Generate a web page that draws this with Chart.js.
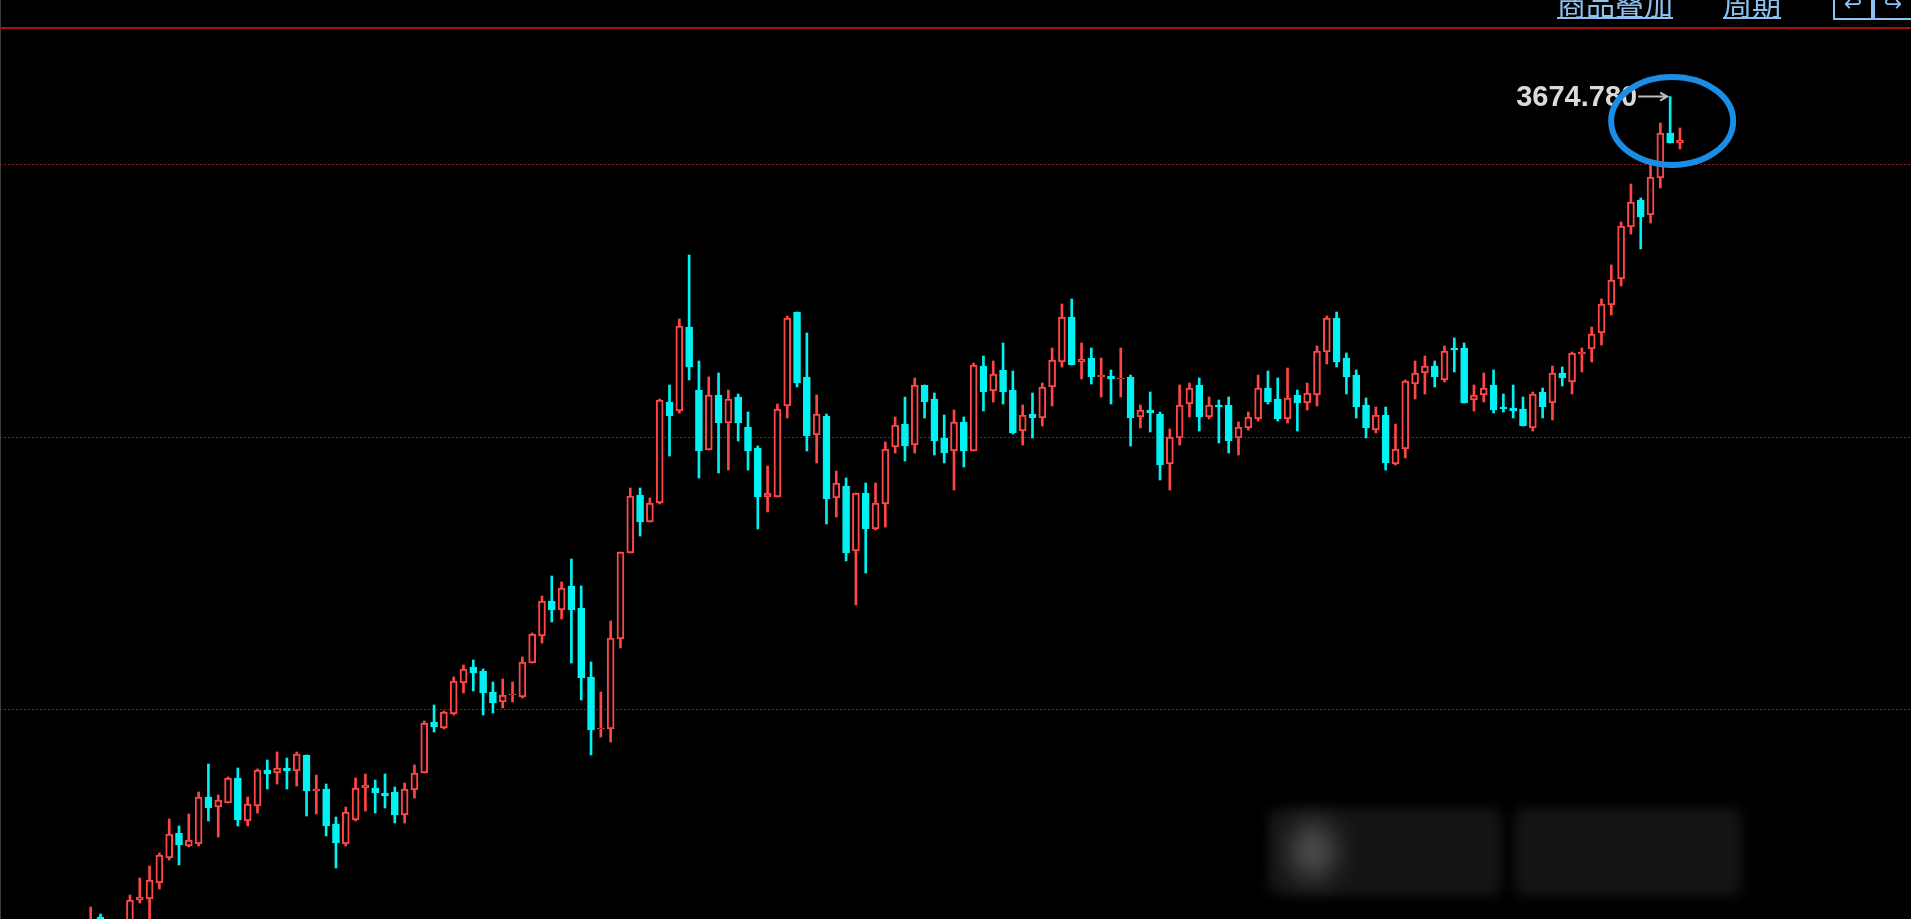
<!DOCTYPE html>
<html>
<head>
<meta charset="utf-8">
<script src="https://cdn.jsdelivr.net/npm/chart.js@4/dist/chart.umd.min.js"></script>
<style>
  html, body { margin: 0; padding: 0; background: #000; overflow: hidden; }
  #wrap { position: relative; width: 1911px; height: 919px; background: #000; }
  #kline { position: absolute; left: 0; top: 0; }
  .topline { position: absolute; left: 0; top: 27px; width: 1911px; height: 2px; background: #a81010; }
  .leftline { position: absolute; left: 0; top: 0; width: 1px; height: 919px; background: #3c3c3c; }
  .tool { position: absolute; top: -11px; font: 29px "Noto Sans CJK SC", sans-serif; line-height: 29px;
          color: #8ec1f2; text-decoration: underline; text-underline-offset: 1px; white-space: nowrap; }
  .btn { position: absolute; top: -12px; height: 28px; width: 36px; border: 2px solid #8ec1f2;
         color: #8ec1f2; font: 22px "DejaVu Sans", sans-serif; line-height: 28px; text-align: center; }
  .blur { position: absolute; background: #141414; border-radius: 10px; filter: blur(6px); }
  .blob { position: absolute; border-radius: 50%; background: #505050; filter: blur(14px); }
</style>
</head>
<body>
<div id="wrap">
  <canvas id="kline" width="1911" height="919"></canvas>
  <div class="leftline"></div>
  <div class="topline"></div>
  <div class="tool" style="left:1557px">商品叠加</div>
  <div class="tool" style="left:1723px">周期</div>
  <div class="btn" style="left:1833px">↩</div>
  <div class="btn" style="left:1873px">↪</div>
  <div class="blur" style="left:1268px; top:808px; width:234px; height:88px;"></div>
  <div class="blur" style="left:1514px; top:808px; width:228px; height:88px;"></div>
  <div class="blob" style="left:1290px; top:822px; width:46px; height:58px;"></div>
</div>
<script>
// daily candles, oldest first
const opens = [
  2725, 2772.3, 2741.5, 2752.5, 2758, 2791, 2792.1, 2809.7, 2837.2, 2864.7,
  2850.4, 2852.6, 2904.3, 2893.3, 2897.7, 2925.2, 2877.9, 2894.4, 2934, 2930.7,
  2936.2, 2932.9, 2950.5, 2910.9, 2913.1, 2874.6, 2852.6, 2879, 2914.2, 2914.2,
  2908.7, 2909.8, 2884.5, 2912, 2930.7, 2986.8, 2980.2, 2995.6, 3029.7, 3047.3,
  3042.9, 3019.8, 3008.8, 3016.5, 3014.3, 3051.7, 3081.4, 3119.9, 3110, 3136.4,
  3112.2, 3036.3, 2979.1, 2979.1, 3078.1, 3172.7, 3236.5, 3206.8, 3227.7, 3338.8,
  3328.9, 3421.3, 3352, 3286, 3346.5, 3315.7, 3344.3, 3311.3, 3288.2, 3234.3,
  3234.3, 3334.4, 3437.8, 3366.3, 3302.5, 3323.4, 3233.2, 3246.4, 3174.9, 3238.7,
  3199.1, 3226.6, 3289.3, 3314.6, 3291.5, 3357.5, 3342.1, 3299.2, 3284.9, 3316.8,
  3284.9, 3378.4, 3350.9, 3374, 3352, 3306.9, 3325.6, 3321.2, 3355.3, 3382.8,
  3432.3, 3382.8, 3387.2, 3366.3, 3367.4, 3364.1, 3366.3, 3322.3, 3330, 3325.6,
  3270.6, 3299.2, 3336.6, 3357.5, 3322.3, 3335.5, 3335.5, 3299.2, 3310.2, 3320.1,
  3354.2, 3342.1, 3320.1, 3346.5, 3337.7, 3346.5, 3393.8, 3431.2, 3387.2, 3368.5,
  3335.5, 3308, 3324.5, 3270.6, 3287.1, 3358.6, 3370.7, 3378.4, 3363, 3398.2,
  3398.2, 3341, 3346.5, 3357.5, 3333.3, 3332.2, 3331.1, 3310.2, 3349.8, 3337.7,
  3370.7, 3360.8, 3391.6, 3397.1, 3414.7, 3445.5, 3474.1, 3531.3, 3561, 3544.5,
  3585.2, 3634.7, 3623.7
];
const closes = [
  2763.5, 2752.5, 2763.5, 2767.9, 2791, 2794.3, 2813, 2840.5, 2863.6, 2851.5,
  2857, 2904.3, 2892.2, 2901, 2925.2, 2879, 2896.6, 2934, 2929.6, 2936.2,
  2932.9, 2951.6, 2910.9, 2913.1, 2872.4, 2853.7, 2887.8, 2914.2, 2917.5, 2908.7,
  2905.4, 2884.5, 2913.1, 2930.7, 2985.7, 2981.3, 2997.8, 3031.9, 3045.1, 3040.7,
  3018.7, 3007.7, 3016.5, 3017.6, 3052.8, 3083.6, 3119.9, 3110, 3134.2, 3110,
  3035.2, 2978, 2980.2, 3079.2, 3173.8, 3235.4, 3206.8, 3227.7, 3341, 3323.4,
  3422.4, 3377.3, 3284.9, 3346.5, 3315.7, 3342.1, 3315.7, 3284.9, 3234.3, 3238.7,
  3331.1, 3431.2, 3359.7, 3301.4, 3325.6, 3232.1, 3249.7, 3172.7, 3238.7, 3199.1,
  3227.7, 3287.1, 3313.5, 3290.4, 3357.5, 3338.8, 3295.9, 3282.7, 3316.8, 3284.9,
  3379.5, 3349.8, 3369.6, 3349.8, 3304.7, 3324.5, 3321.2, 3355.3, 3385, 3432.3,
  3379.5, 3386.1, 3366.3, 3368.5, 3364.1, 3365.2, 3321.2, 3330, 3326.7, 3269.5,
  3300.3, 3335.5, 3354.2, 3322.3, 3335.5, 3333.3, 3295.9, 3311.3, 3322.3, 3354.2,
  3338.8, 3320.1, 3343.2, 3337.7, 3348.7, 3394.9, 3431.2, 3382.8, 3366.3, 3333.3,
  3310.2, 3324.5, 3271.7, 3287.1, 3361.9, 3370.7, 3378.4, 3366.3, 3394.9, 3396,
  3337.7, 3346.5, 3354.2, 3330, 3331.1, 3328.9, 3312.4, 3347.6, 3333.3, 3370.7,
  3365.2, 3392.7, 3393.8, 3413.6, 3446.6, 3473, 3532.4, 3558.8, 3542.3, 3586.3,
  3634.7, 3623.7, 3627
];
const highs = [
  2783.3, 2775.6, 2766.8, 2769, 2796.5, 2815.2, 2828.4, 2842.7, 2880.1, 2872.4,
  2885.6, 2909.8, 2940.6, 2906.5, 2926.3, 2936.2, 2904.3, 2935.1, 2945, 2953.8,
  2947.2, 2953.8, 2950.5, 2928.5, 2918.6, 2882.3, 2893.3, 2925.2, 2929.6, 2923,
  2929.6, 2915.3, 2919.7, 2939.5, 2987.9, 3005.5, 2998.9, 3036.3, 3049.5, 3055,
  3045.1, 3030.8, 3034.1, 3030.8, 3058.3, 3084.7, 3125.4, 3147.4, 3140.8, 3166.1,
  3136.4, 3052.8, 3019.8, 3097.9, 3173.8, 3244.2, 3244.2, 3233.2, 3342.1, 3357.5,
  3430.1, 3500.5, 3383.9, 3366.3, 3370.7, 3352, 3347.6, 3327.8, 3290.4, 3268.4,
  3336.6, 3433.4, 3437.8, 3414.7, 3346.5, 3325.6, 3262.9, 3255.2, 3238.7, 3249.7,
  3249.7, 3294.8, 3322.3, 3344.3, 3365.2, 3357.5, 3348.7, 3324.5, 3330, 3322.3,
  3381.7, 3389.4, 3383.9, 3403.7, 3372.9, 3335.5, 3348.7, 3359.7, 3398.2, 3446.6,
  3452.1, 3403.7, 3398.2, 3387.2, 3374, 3398.2, 3368.5, 3335.5, 3349.8, 3327.8,
  3309.1, 3357.5, 3359.7, 3365.2, 3344.3, 3341, 3344.3, 3316.8, 3327.8, 3368.5,
  3372.9, 3365.2, 3376.2, 3352, 3359.7, 3400.4, 3433.4, 3437.8, 3392.7, 3374,
  3343.2, 3333.3, 3333.3, 3314.6, 3363, 3383.9, 3389.4, 3383.9, 3400.4, 3409.2,
  3403.7, 3357.5, 3370.7, 3374, 3347.6, 3357.5, 3344.3, 3349.8, 3354.2, 3378.4,
  3377.3, 3393.8, 3398.2, 3421.3, 3452.1, 3489.5, 3536.8, 3578.6, 3563.2, 3599.5,
  3645.7, 3674.78, 3640.2
];
const lows = [
  2714, 2741.5, 2736, 2747, 2747, 2787.7, 2763.5, 2803.1, 2835, 2829.5,
  2849.3, 2850.4, 2877.9, 2860.3, 2897.7, 2872.4, 2872.4, 2886.7, 2913.1, 2918.6,
  2913.1, 2916.4, 2883.4, 2885.6, 2861.4, 2826.2, 2850.4, 2877.9, 2888.9, 2886.7,
  2892.2, 2875.7, 2875.7, 2903.2, 2930.7, 2975.8, 2979.1, 2994.5, 3018.7, 3020.9,
  2994.5, 2996.7, 3002.2, 3008.8, 3013.2, 3051.7, 3073.7, 3096.8, 3100.1, 3051.7,
  3011, 2950.5, 2970.3, 2964.8, 3068.2, 3172.7, 3191.4, 3206.8, 3226.6, 3279.4,
  3326.7, 3363, 3255.2, 3286, 3260.7, 3264, 3295.9, 3264, 3199.1, 3217.8,
  3234.3, 3321.2, 3355.3, 3284.9, 3271.7, 3204.6, 3212.3, 3163.9, 3115.5, 3150.7,
  3198, 3201.3, 3282.7, 3273.9, 3282.7, 3321.2, 3280.5, 3271.7, 3242, 3267.3,
  3284.9, 3328.9, 3338.8, 3336.6, 3303.6, 3291.5, 3299.2, 3312.4, 3334.4, 3377.3,
  3379.5, 3364.1, 3358.6, 3344.3, 3336.6, 3344.3, 3290.4, 3310.2, 3305.8, 3253,
  3242, 3291.5, 3322.3, 3306.9, 3320.1, 3293.7, 3282.7, 3280.5, 3308, 3317.9,
  3336.6, 3317.9, 3315.7, 3306.9, 3330, 3334.4, 3380.6, 3377.3, 3347.6, 3321.2,
  3299.2, 3304.7, 3264, 3269.5, 3277.2, 3342.1, 3347.6, 3355.3, 3360.8, 3371.8,
  3337.7, 3328.9, 3338.8, 3326.7, 3327.8, 3321.2, 3312.4, 3306.9, 3321.2, 3319,
  3356.4, 3347.6, 3371.8, 3382.8, 3401.5, 3434.5, 3466.4, 3523.6, 3507.1, 3535.7,
  3574.2, 3623.7, 3617.1
];

// horizontal dotted price levels
const gridLevels = [3000, 3300, 3600];
// highest price marker and the circled area
const peakLabel = '3674.780';
const circlePrice = 3648;

const upColor = '#ff4646';
const downColor = '#00f2f2';

const isUp = opens.map((o, i) => closes[i] >= o);

const annotate = {
    id: 'annotate',
    afterDatasetsDraw(chart) {
        const ctx = chart.ctx;
        const xs = chart.scales.x;
        const ys = chart.scales.y;
        const peakIdx = highs.indexOf(Math.max(...highs));
        const px = xs.getPixelForValue(peakIdx);
        const py = ys.getPixelForValue(highs[peakIdx]);

        ctx.save();
        // price text + arrow
        ctx.font = 'bold 29px "Liberation Sans", Arial, sans-serif';
        ctx.fillStyle = '#dadada';
        ctx.textAlign = 'right';
        ctx.textBaseline = 'middle';
        ctx.fillText(peakLabel, px - 33, py + 1);
        ctx.strokeStyle = '#bdbdbd';
        ctx.lineWidth = 2;
        ctx.beginPath();
        ctx.moveTo(px - 32, py);
        ctx.lineTo(px - 3, py);
        ctx.moveTo(px - 10, py - 4);
        ctx.lineTo(px - 3, py);
        ctx.lineTo(px - 10, py + 4);
        ctx.stroke();

        // blue circle around the last candles
        ctx.strokeStyle = '#1a8ee6';
        ctx.lineWidth = 6;
        ctx.beginPath();
        ctx.ellipse(px + 2, ys.getPixelForValue(circlePrice), 61, 44, 0, 0, Math.PI * 2);
        ctx.stroke();
        ctx.restore();
    }
};

new Chart(document.getElementById('kline'), {
    type: 'bar',
    data: {
        datasets: [
            {
                label: 'wick',
                data: lows.map((l, i) => ({ x: i, y: [l, highs[i]] })),
                backgroundColor: isUp.map(u => u ? upColor : downColor),
                barThickness: 2,
                grouped: false,
                order: 2
            },
            {
                label: 'body',
                data: opens.map((o, i) => ({ x: i, y: [o, closes[i]] })),
                backgroundColor: isUp.map(u => u ? '#000' : downColor),
                borderColor: isUp.map(u => u ? upColor : downColor),
                borderWidth: 2,
                borderSkipped: false,
                barThickness: 7,
                grouped: false,
                order: 1
            }
        ]
    },
    options: {
        responsive: false,
        animation: false,
        events: [],
        layout: { padding: 0 },
        plugins: {
            legend: { display: false },
            tooltip: { enabled: false }
        },
        scales: {
            x: {
                type: 'linear',
                min: -9.245,
                max: 185.55,
                offset: false,
                display: false
            },
            y: {
                min: 2770.1,
                max: 3781,
                afterBuildTicks: scale => {
                    scale.ticks = gridLevels.map(v => ({ value: v }));
                },
                ticks: { display: false },
                grid: { color: '#a01414', lineWidth: 1, drawTicks: false },
                border: { display: false, dash: [2, 2] }
            }
        }
    },
    plugins: [annotate]
});
</script>
</body>
</html>
